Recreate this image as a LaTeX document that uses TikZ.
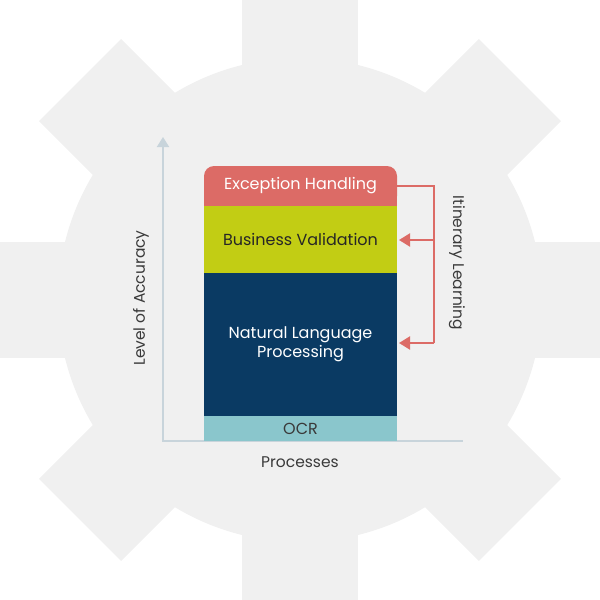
\documentclass[tikz,border=0pt]{standalone}
\usepackage{fontspec}
\setmainfont{Poppins}
\usetikzlibrary{arrows.meta}

\definecolor{gearfill}{HTML}{F0F0F0}
\definecolor{excfill}{HTML}{DC6B66}
\definecolor{validfill}{HTML}{C2CD14}
\definecolor{nlpfill}{HTML}{0A3A63}
\definecolor{ocrfill}{HTML}{8AC6CC}
\definecolor{axisgray}{HTML}{C8D4DB}
\definecolor{labelgray}{HTML}{3A3A3A}

\begin{document}
\begin{tikzpicture}[
    x=1pt, y=-1pt,
    layer/.style={minimum width=193pt, inner sep=0pt, outer sep=0pt, align=center, font=\fontsize{16}{19}\selectfont},
    axis/.style={draw=axisgray, line width=2pt},
    axislabel/.style={text=labelgray, font=\fontsize{15.5}{18}\selectfont, inner sep=0pt},
    feedback/.style={draw=excfill, line width=2pt},
    feedbackarrow/.style={feedback, -{Triangle[width=13pt,length=11pt]}, shorten >=2pt}
  ]

  \useasboundingbox (0,0) rectangle (600,600);

  % Gear in the background
  \begin{scope}
    \clip (0,0) rectangle (600,600);
    \fill[gearfill] (300,300) circle (242pt);
    \foreach \a in {0,45,...,315}
      \fill[gearfill, rotate around={\a:(300,300)}] (500,242) rectangle (611,358);
  \end{scope}

  % Axes
  \coordinate (origin) at (163,441);
  \coordinate (ytop) at (163,137);
  \coordinate (xend) at (463,441);
  \draw[axis, {Triangle[width=12pt,length=10pt]}-] (ytop) -- (origin) -- (xend);

  % Stacked layers
  \fill[excfill] (204,190) rectangle (397,206);
  \node[layer, fill=excfill, text=white, minimum height=40pt, rounded corners=10pt] (exc) at (300.5,186) {Exception Handling};
  \node[layer, fill=validfill, text=black!85, minimum height=67pt] (valid) at (300.5,239.5) {Business Validation};
  \node[layer, fill=nlpfill, text=white, minimum height=143pt] (nlp) at (300.5,344.5) {Natural Language\\Processing};
  \node[layer, fill=ocrfill, text=labelgray, minimum height=25pt] (ocr) at (300.5,428.5) {OCR};

  % Feedback loop
  \coordinate (brtop) at (434,186);
  \coordinate (brmid) at (434,240);
  \coordinate (brbot) at (434,343);
  \draw[feedback] (exc.east) -- (brtop) -- (brbot);
  \draw[feedbackarrow] (brmid) -- (valid.east |- brmid);
  \draw[feedbackarrow] (brbot) -- (nlp.east |- brbot);

  % Labels
  \node[axislabel, rotate=90] (ylabel) at (141,298) {Level of Accuracy};
  \node[axislabel] (xlabel) at (300,462) {Processes};
  \node[axislabel, rotate=-90] (looplabel) at (457,263) {Itinerary Learning};

\end{tikzpicture}
\end{document}
